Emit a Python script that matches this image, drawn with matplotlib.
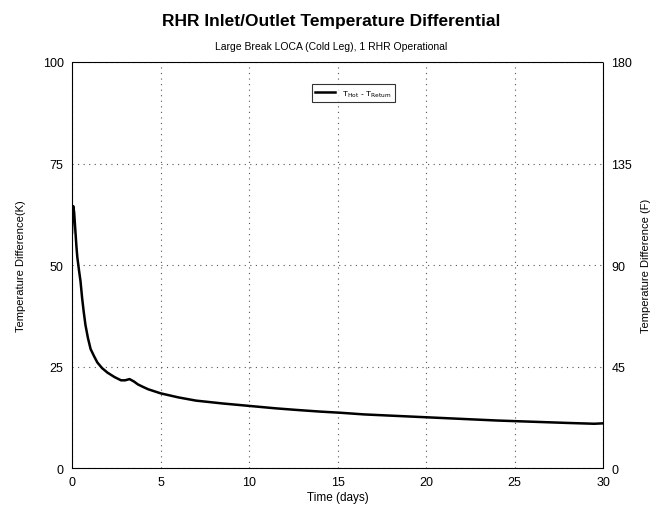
import matplotlib
matplotlib.use("Agg")
import matplotlib.pyplot as plt
import numpy as np

plt.rcParams['font.family'] = ['Liberation Sans', 'DejaVu Sans']

time_days = [0.0, 0.03, 0.07, 0.12, 0.18, 0.25, 0.30, 0.40, 0.48, 0.57, 0.66, 0.76, 0.90, 1.05,
             1.25, 1.43, 1.7, 2.0, 2.4, 2.77, 3.0, 3.25, 3.5, 3.72, 4.0, 4.3, 5.0, 6.0, 7.0,
             8.5, 10.0, 11.5, 12.7, 14.0, 15.2, 16.5, 18.0, 20.0, 22.0, 24.0, 26.0, 28.0, 29.5, 30.0]
delta_T_K = [58.0, 63.5, 64.5, 63.0, 59.0, 54.5, 51.9, 48.5, 46.0, 41.9, 38.5, 35.2, 32.0, 29.3,
             27.5, 26.0, 24.6, 23.5, 22.4, 21.6, 21.6, 21.9, 21.3, 20.6, 20.0, 19.4, 18.4, 17.4, 16.6,
             15.9, 15.3, 14.7, 14.3, 13.9, 13.6, 13.2, 12.9, 12.5, 12.1, 11.7, 11.4, 11.1, 10.9, 11.0]

x_ticks = [0, 5, 10, 15, 20, 25, 30]
yK_ticks = [0, 25, 50, 75, 100]
yF_ticks = [0, 45, 90, 135, 180]

fig = plt.figure(figsize=(6.5, 5.06), dpi=100)
ax = fig.add_axes([0.1108, 0.0731, 0.8169, 0.8024])

ax.plot(time_days, delta_T_K, color='black', lw=1.8, label=r'T$_{\rm Hot}$ - T$_{\rm Return}$')
ax.set_xlim(0, 30)
ax.set_ylim(0, 100)
ax.set_xticks(x_ticks)
ax.set_yticks(yK_ticks)
ax.grid(True, color='#555555', linestyle=(0, (1, 4)), lw=0.8)
ax.tick_params(length=0, labelsize=9, pad=6)
for s in ax.spines.values():
    s.set_linestyle((0, (1, 1)))
    s.set_linewidth(0.8)
ax.set_xlabel('Time (days)', fontsize=8.5, labelpad=2)
ax.set_ylabel('Temperature Difference(K)', fontsize=8, labelpad=12)

ax2 = ax.twinx()
ax2.set_ylim(0, 180)
ax2.set_yticks(yF_ticks)
ax2.tick_params(length=0, labelsize=9, pad=6)
for s in ax2.spines.values():
    s.set_visible(False)
ax2.set_ylabel('Temperature Difference (F)', fontsize=8, labelpad=6)

leg = ax.legend(loc='upper center', bbox_to_anchor=(0.53, 0.955), fontsize=6, frameon=True,
                fancybox=False, edgecolor='black', handlelength=2.4, borderpad=0.45)
leg.get_frame().set_linewidth(0.8)

fig.text(0.51, 0.958, 'RHR Inlet/Outlet Temperature Differential', ha='center', va='center',
         fontsize=12.5, fontweight='bold')
fig.text(0.51, 0.907, 'Large Break LOCA (Cold Leg), 1 RHR Operational', ha='center', va='center',
         fontsize=7.5)

fig.savefig('out.png', dpi=100)
